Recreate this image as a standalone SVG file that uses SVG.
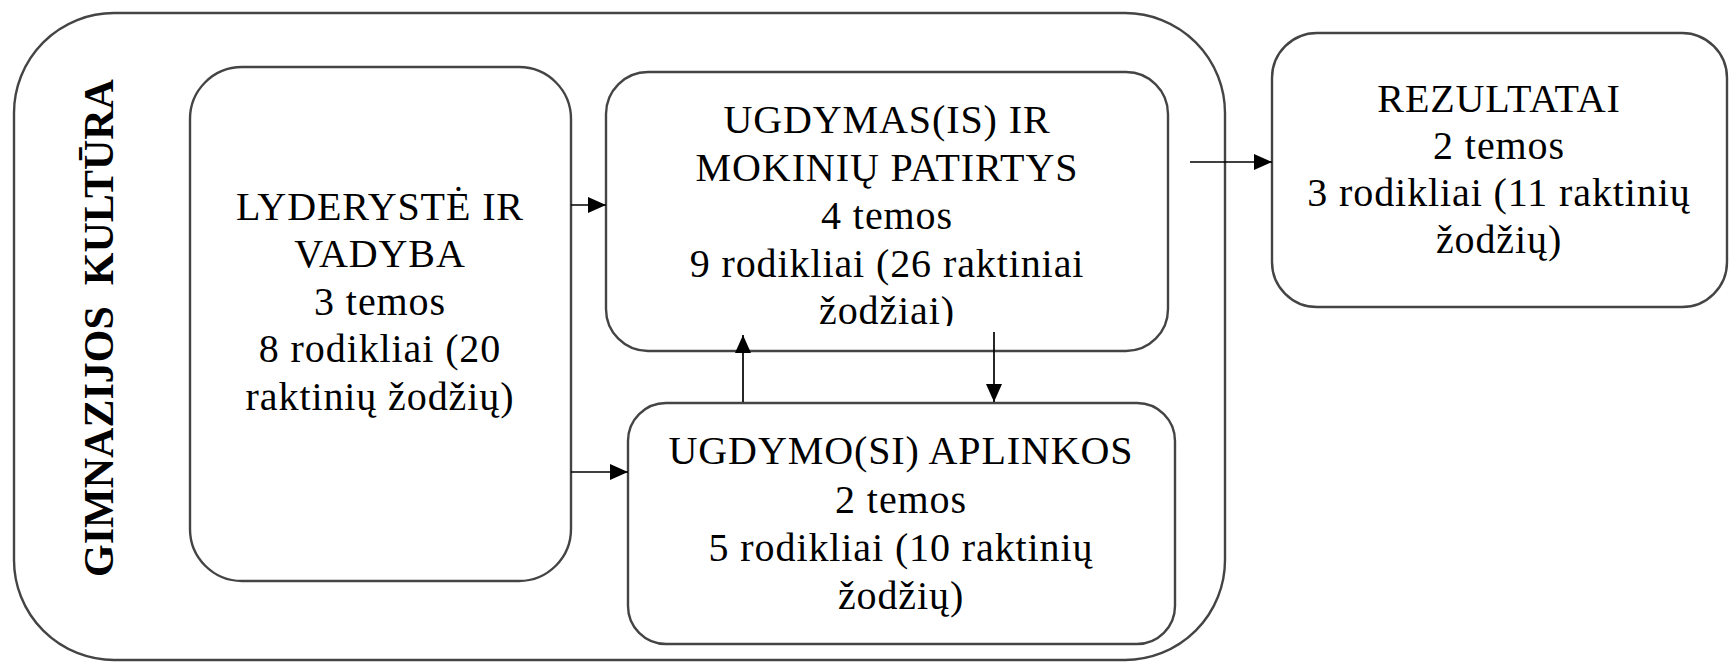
<svg xmlns="http://www.w3.org/2000/svg" width="1729" height="663" viewBox="0 0 1729 663">
<style>
.box{fill:#fff;stroke:#444;stroke-width:2.4}
.t{font-family:'Liberation Serif','Times New Roman',serif;font-size:40px;letter-spacing:0.9px;fill:#000;text-anchor:middle}
.vt{font-family:'Liberation Serif','Times New Roman',serif;font-size:42px;font-weight:bold;fill:#000;text-anchor:middle;white-space:pre}
.c{stroke:#000;stroke-width:1.7;fill:none;marker-end:url(#ah)}
</style>
<defs>
<marker id="ah" markerUnits="userSpaceOnUse" markerWidth="18" markerHeight="16" refX="18" refY="8" orient="auto">
<path d="M0,0 L18,8 L0,16 Z" fill="#000"/>
</marker>
<clipPath id="clipU"><rect x="606" y="72" width="562" height="254"/></clipPath>
</defs>
<g id="gimnazijos-kultura">
<rect class="box" x="14" y="13" width="1211" height="647" rx="100" ry="100"/>
<text class="vt" transform="translate(113,328) rotate(-90)">GIMNAZIJOS  KULTŪRA</text>
</g>
<g id="lyderyste">
<rect class="box" x="190" y="67" width="381" height="514" rx="52" ry="52"/>
<text class="t" x="380" y="220">LYDERYSTĖ IR</text>
<text class="t" x="380" y="267">VADYBA</text>
<text class="t" x="380" y="315">3 temos</text>
<text class="t" x="380" y="362">8 rodikliai (20</text>
<text class="t" x="380" y="410">raktinių žodžių)</text>
</g>
<g id="ugdymas">
<rect class="box" x="606" y="72" width="562" height="279" rx="42" ry="42"/>
<g clip-path="url(#clipU)">
<text class="t" x="887" y="133">UGDYMAS(IS) IR</text>
<text class="t" x="887" y="181">MOKINIŲ PATIRTYS</text>
<text class="t" x="887" y="229">4 temos</text>
<text class="t" x="887" y="277">9 rodikliai (26 raktiniai</text>
<text class="t" x="887" y="324">žodžiai)</text>
</g>
</g>
<g id="ugdymo-aplinkos">
<rect class="box" x="628" y="403" width="547" height="241" rx="38" ry="38"/>
<text class="t" x="901" y="464">UGDYMO(SI) APLINKOS</text>
<text class="t" x="901" y="513">2 temos</text>
<text class="t" x="901" y="561">5 rodikliai (10 raktinių</text>
<text class="t" x="901" y="609">žodžių)</text>
</g>
<g id="rezultatai">
<rect class="box" x="1272" y="33" width="455" height="274" rx="45" ry="45"/>
<text class="t" x="1499" y="112">REZULTATAI</text>
<text class="t" x="1499" y="159">2 temos</text>
<text class="t" x="1499" y="206">3 rodikliai (11 raktinių</text>
<text class="t" x="1499" y="253">žodžių)</text>
</g>
<g id="connectors">
<line class="c" x1="571" y1="205" x2="606" y2="205"/>
<line class="c" x1="571" y1="472" x2="628" y2="472"/>
<line class="c" x1="743" y1="402" x2="743" y2="335"/>
<line class="c" x1="994" y1="332" x2="994" y2="402"/>
<line class="c" x1="1190" y1="162" x2="1272" y2="162"/>
</g>
</svg>
